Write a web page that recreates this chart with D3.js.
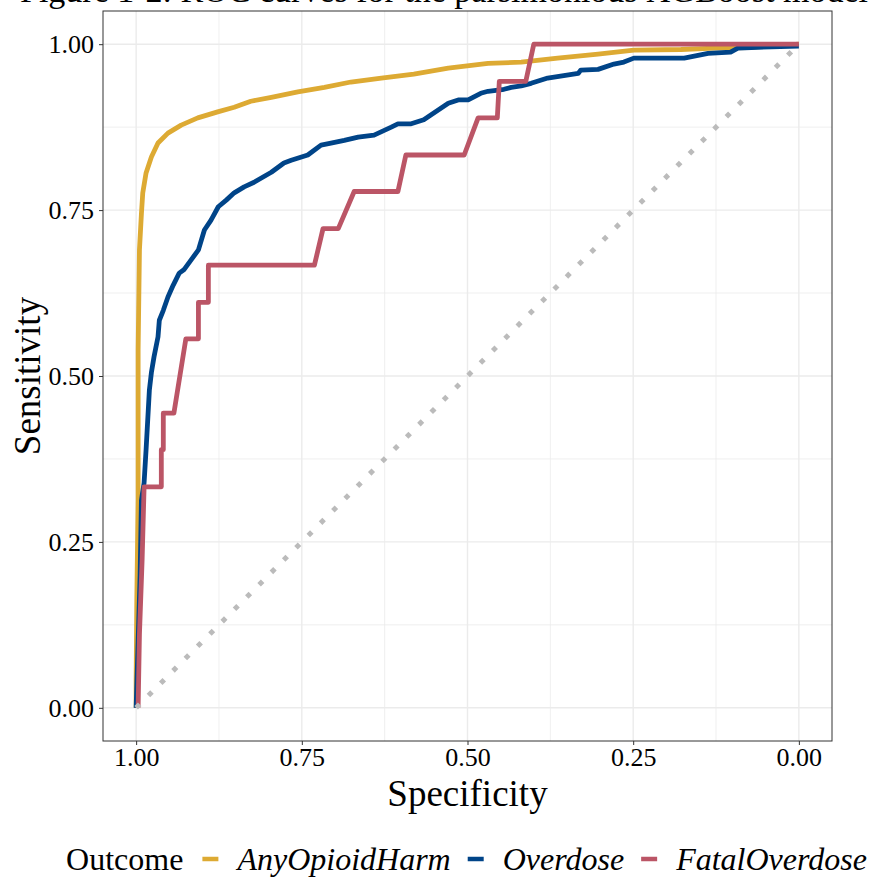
<!DOCTYPE html>
<html>
<head>
<meta charset="utf-8">
<script src="https://cdn.jsdelivr.net/npm/d3@7"></script>
<style>
  body { margin: 0; background: #fff; }
  svg text { font-family: "Liberation Serif", "DejaVu Serif", serif; fill: #000; }
</style>
</head>
<body>
<div id="roc"></div>
<script>
// ROC curves (specificity on x, reversed; sensitivity on y)
const seriesNames = ['AnyOpioidHarm', 'Overdose', 'FatalOverdose'];
const seriesColors = ['#DDAA33', '#004488', '#BB5566'];

const anyHarmSpec = [1.000, 1.000, 0.999, 0.997, 0.997, 0.995, 0.992, 0.990, 0.985, 0.977, 0.967, 0.952, 0.932, 0.907, 0.877, 0.852, 0.827, 0.796, 0.756, 0.716, 0.676, 0.630, 0.581, 0.529, 0.469, 0.419, 0.364, 0.303, 0.249, 0.178, 0.128, 0.077, 0.000];
const anyHarmSens = [0.000, 0.042, 0.163, 0.313, 0.539, 0.690, 0.745, 0.776, 0.806, 0.830, 0.851, 0.866, 0.878, 0.889, 0.898, 0.905, 0.914, 0.920, 0.928, 0.935, 0.943, 0.949, 0.955, 0.964, 0.971, 0.973, 0.979, 0.985, 0.991, 0.992, 0.994, 0.995, 1.000];

const overdoseSpec = [1.000, 0.997, 0.994, 0.992, 0.988, 0.985, 0.980, 0.977, 0.973, 0.967, 0.965, 0.959, 0.952, 0.944, 0.935, 0.928, 0.917, 0.906, 0.897, 0.887, 0.876, 0.864, 0.852, 0.837, 0.822, 0.796, 0.777, 0.766, 0.741, 0.721, 0.706, 0.686, 0.665, 0.641, 0.615, 0.605, 0.585, 0.566, 0.529, 0.514, 0.499, 0.480, 0.469, 0.445, 0.434, 0.419, 0.404, 0.379, 0.333, 0.329, 0.303, 0.279, 0.264, 0.249, 0.173, 0.137, 0.103, 0.092, 0.072, 0.000];
const overdoseSens = [0.000, 0.100, 0.200, 0.313, 0.339, 0.389, 0.479, 0.505, 0.529, 0.559, 0.584, 0.599, 0.619, 0.637, 0.655, 0.660, 0.675, 0.690, 0.720, 0.735, 0.755, 0.765, 0.776, 0.785, 0.792, 0.807, 0.821, 0.825, 0.833, 0.848, 0.851, 0.855, 0.860, 0.863, 0.875, 0.880, 0.880, 0.886, 0.911, 0.916, 0.916, 0.926, 0.929, 0.932, 0.935, 0.937, 0.941, 0.949, 0.956, 0.961, 0.962, 0.970, 0.973, 0.979, 0.979, 0.986, 0.988, 0.994, 0.995, 0.997];

const fatalSpec = [0.997, 0.995, 0.991, 0.988, 0.962, 0.962, 0.959, 0.959, 0.943, 0.925, 0.906, 0.906, 0.891, 0.891, 0.731, 0.718, 0.695, 0.671, 0.605, 0.593, 0.505, 0.484, 0.455, 0.452, 0.412, 0.400, 0.000];
const fatalSens = [0.000, 0.111, 0.222, 0.333, 0.333, 0.389, 0.389, 0.444, 0.444, 0.556, 0.556, 0.611, 0.611, 0.667, 0.667, 0.722, 0.722, 0.778, 0.778, 0.833, 0.833, 0.889, 0.889, 0.944, 0.944, 1.000, 1.000];

const tickValues = [0, 0.25, 0.5, 0.75, 1];
const minorValues = [0.125, 0.375, 0.625, 0.875];

const width = 883, height = 880;
const panel = { left: 103, right: 832, top: 11, bottom: 741 };

const x = d3.scaleLinear().domain([1.05, -0.05]).range([panel.left, panel.right]);
const y = d3.scaleLinear().domain([-0.05, 1.05]).range([panel.bottom, panel.top]);

const svg = d3.select('#roc').append('svg')
    .attr('width', width)
    .attr('height', height);

// title, mostly cut off by the page top
svg.append('text')
    .attr('x', 444)
    .attr('y', 2)
    .attr('text-anchor', 'middle')
    .style('font-size', '34px')
    .text('Figure 1-2: ROC curves for the parsimonious XGBoost model');

// grid
const grid = svg.append('g');
grid.selectAll('.minor-x').data(minorValues).enter().append('line')
    .attr('x1', d => x(d)).attr('x2', d => x(d))
    .attr('y1', panel.top).attr('y2', panel.bottom)
    .style('stroke', '#EBEBEB').style('stroke-width', 0.8);
grid.selectAll('.minor-y').data(minorValues).enter().append('line')
    .attr('y1', d => y(d)).attr('y2', d => y(d))
    .attr('x1', panel.left).attr('x2', panel.right)
    .style('stroke', '#EBEBEB').style('stroke-width', 0.8);
grid.selectAll('.major-x').data(tickValues).enter().append('line')
    .attr('x1', d => x(d)).attr('x2', d => x(d))
    .attr('y1', panel.top).attr('y2', panel.bottom)
    .style('stroke', '#EBEBEB').style('stroke-width', 1.4);
grid.selectAll('.major-y').data(tickValues).enter().append('line')
    .attr('y1', d => y(d)).attr('y2', d => y(d))
    .attr('x1', panel.left).attr('x2', panel.right)
    .style('stroke', '#EBEBEB').style('stroke-width', 1.4);

// curves
const line = d3.line()
    .x(d => x(d[0]))
    .y(d => y(d[1]));

const curves = [
  d3.zip(anyHarmSpec, anyHarmSens),
  d3.zip(overdoseSpec, overdoseSens),
  d3.zip(fatalSpec, fatalSens)
];

svg.append('g').selectAll('path')
    .data(curves)
  .enter().append('path')
    .attr('d', line)
    .style('fill', 'none')
    .style('stroke', (d, i) => seriesColors[i])
    .style('stroke-width', 4.8)
    .style('stroke-linejoin', 'round');

// chance line
svg.append('path')
    .attr('d', line([[1, 0], [0, 1]]))
    .style('fill', 'none')
    .style('stroke', '#BBBBBB')
    .style('stroke-width', 5)
    .style('stroke-dasharray', '5 12.4');

// panel border
svg.append('rect')
    .attr('x', panel.left).attr('y', panel.top)
    .attr('width', panel.right - panel.left)
    .attr('height', panel.bottom - panel.top)
    .style('fill', 'none')
    .style('stroke', '#333')
    .style('stroke-width', 1);

// axes
const fmt = d3.format('.2f');
const xAxis = svg.append('g')
    .attr('transform', 'translate(0,' + panel.bottom + ')')
    .call(d3.axisBottom(x).tickValues(tickValues).tickFormat(fmt).tickSize(4).tickPadding(3));
const yAxis = svg.append('g')
    .attr('transform', 'translate(' + panel.left + ',0)')
    .call(d3.axisLeft(y).tickValues(tickValues).tickFormat(fmt).tickSize(4).tickPadding(5));

[xAxis, yAxis].forEach(function(ax) {
  ax.select('.domain').remove();
  ax.selectAll('line').style('stroke', '#333');
  ax.selectAll('text')
      .style('font-family', '"Liberation Serif", serif')
      .style('font-size', '26px')
      .style('fill', '#000');
});
xAxis.selectAll('text').attr('dy', '0.71em');

// axis titles
svg.append('text')
    .attr('x', (panel.left + panel.right) / 2)
    .attr('y', 806)
    .attr('text-anchor', 'middle')
    .style('font-size', '37px')
    .text('Specificity');

svg.append('text')
    .attr('transform', 'translate(40,' + (panel.top + panel.bottom) / 2 + ') rotate(-90)')
    .attr('text-anchor', 'middle')
    .style('font-size', '37px')
    .text('Sensitivity');

// legend along the bottom
const legend = svg.append('g');
const legendY = 870;
let cursor = 0;
const outcomeLabel = legend.append('text')
    .attr('x', cursor).attr('y', legendY)
    .style('font-size', '32px')
    .text('Outcome');
cursor += outcomeLabel.node().getComputedTextLength() + 19;

seriesNames.forEach(function(name, i) {
  legend.append('line')
      .attr('x1', cursor).attr('x2', cursor + 16)
      .attr('y1', legendY - 11).attr('y2', legendY - 11)
      .style('stroke', seriesColors[i])
      .style('stroke-width', 4.5);
  cursor += 16 + 19;
  const t = legend.append('text')
      .attr('x', cursor).attr('y', legendY)
      .style('font-size', '32px')
      .style('font-style', 'italic')
      .text(name);
  cursor += t.node().getComputedTextLength() + 17;
});
cursor -= 17;
legend.attr('transform', 'translate(' + (466.5 - cursor / 2) + ',0)');
</script>
</body>
</html>
